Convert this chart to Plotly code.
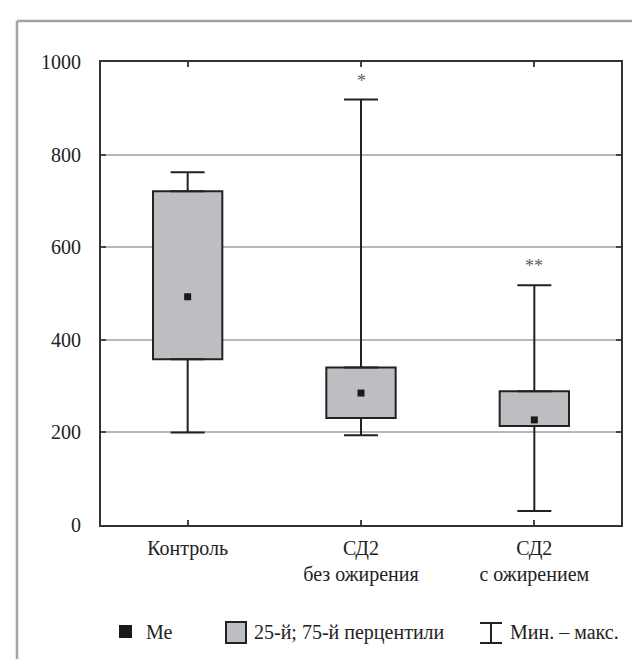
import plotly.graph_objects as go

# ---- data ----
categories = ["Контроль", "СД2<br>без ожирения", "СД2<br>с ожирением"]
q1_values = [358, 231, 214]
q3_values = [721, 340, 289]
median_values = [493, 285, 227]
min_values = [200, 194, 30]
max_values = [762, 919, 518]
significance = ["", "*", "**"]
y_ticks = [0, 200, 400, 600, 800, 1000]

# ---- styling ----
FONT = "Liberation Serif"
DARK = "#222222"
BOX_FILL = "#bdbec2"
GRID = "#b8b8b8"

W, H = 640, 659
L, R, T, B = 93, 613, 54, 517  # plot area in px


def px_x(px):
    return (px - L) / (R - L)


def px_y(py):
    return (B - py) / (B - T)


fig = go.Figure()

# boxes (25th - 75th percentile)
fig.add_trace(go.Bar(
    x=categories,
    y=[a - b for a, b in zip(q3_values, q1_values)],
    base=q1_values,
    width=0.4,
    marker=dict(color=BOX_FILL, line=dict(color=DARK, width=2)),
    showlegend=False,
    hoverinfo="skip",
))

# upper whiskers
fig.add_trace(go.Scatter(
    x=categories, y=q3_values, mode="markers",
    marker=dict(size=1, opacity=0),
    error_y=dict(type="data", symmetric=False,
                 array=[mx - q for mx, q in zip(max_values, q3_values)],
                 arrayminus=[0, 0, 0],
                 color=DARK, thickness=2, width=17),
    showlegend=False, hoverinfo="skip",
))

# lower whiskers
fig.add_trace(go.Scatter(
    x=categories, y=q1_values, mode="markers",
    marker=dict(size=1, opacity=0),
    error_y=dict(type="data", symmetric=False,
                 array=[0, 0, 0],
                 arrayminus=[q - mn for q, mn in zip(q1_values, min_values)],
                 color=DARK, thickness=2, width=17),
    showlegend=False, hoverinfo="skip",
))

# medians
fig.add_trace(go.Scatter(
    x=categories, y=median_values, mode="markers",
    marker=dict(symbol="square", size=7, color="#1a1a1a", line=dict(width=0)),
    showlegend=False, hoverinfo="skip",
))

# significance stars
for cat, mx, s in zip(categories, max_values, significance):
    if s:
        fig.add_annotation(x=cat, y=mx, text=s, showarrow=False,
                           yshift=19, font=dict(family=FONT, size=18, color="#606060"))

# ---- outer frame (left + top lines) ----
frame_color = "#a3a3a3"
fig.add_shape(type="line", xref="paper", yref="paper",
              x0=px_x(9), x1=px_x(660), y0=px_y(13), y1=px_y(13),
              line=dict(color=frame_color, width=2.5))
fig.add_shape(type="line", xref="paper", yref="paper",
              x0=px_x(9), x1=px_x(9), y0=px_y(13), y1=px_y(680),
              line=dict(color=frame_color, width=2.5))

# ---- legend (drawn manually) ----
ly = 624
fig.add_shape(type="rect", xref="paper", yref="paper",
              x0=px_x(111), x1=px_x(124), y0=px_y(617), y1=px_y(630),
              fillcolor="#1a1a1a", line=dict(width=0))
fig.add_annotation(xref="paper", yref="paper", x=px_x(136), y=px_y(ly),
                   text="Ме", showarrow=False, xanchor="left", yanchor="middle",
                   font=dict(family=FONT, size=20, color=DARK))
fig.add_shape(type="rect", xref="paper", yref="paper",
              x0=px_x(218), x1=px_x(238), y0=px_y(614), y1=px_y(635),
              fillcolor=BOX_FILL, line=dict(color=DARK, width=2))
fig.add_annotation(xref="paper", yref="paper", x=px_x(244), y=px_y(ly),
                   text="25-й; 75-й перцентили", showarrow=False,
                   xanchor="left", yanchor="middle",
                   font=dict(family=FONT, size=20, color=DARK))
for (xa, xb, ya, yb) in [(472, 494, 615, 615), (472, 494, 635, 635), (483, 483, 615, 635)]:
    fig.add_shape(type="line", xref="paper", yref="paper",
                  x0=px_x(xa), x1=px_x(xb), y0=px_y(ya), y1=px_y(yb),
                  line=dict(color=DARK, width=2))
fig.add_annotation(xref="paper", yref="paper", x=px_x(500), y=px_y(ly),
                   text="Мин. – макс.", showarrow=False,
                   xanchor="left", yanchor="middle",
                   font=dict(family=FONT, size=20, color=DARK))

fig.update_layout(
    width=W, height=H,
    margin=dict(l=L, r=W - R, t=T, b=H - B),
    paper_bgcolor="white", plot_bgcolor="white",
    font=dict(family=FONT, size=20, color=DARK),
    showlegend=False,
)

fig.update_xaxes(
    type="category", range=[-0.5, 2.5],
    showline=True, linecolor="#333333", linewidth=2, mirror="ticks",
    ticks="inside", ticklen=5, tickcolor="#444444", tickwidth=1.5,
    showgrid=False, zeroline=False,
    tickfont=dict(family=FONT, size=20, color=DARK),
    ticklabelstandoff=4,
)
fig.update_yaxes(
    range=[0, 1000], tickvals=y_ticks,
    showline=True, linecolor="#333333", linewidth=2, mirror="ticks",
    ticks="inside", ticklen=5, tickcolor="#444444", tickwidth=1.5,
    showgrid=True, gridcolor=GRID, gridwidth=1.5, zeroline=False,
    tickfont=dict(family=FONT, size=20, color=DARK),
    ticklabelstandoff=14,
)

fig.write_html("out.html")
